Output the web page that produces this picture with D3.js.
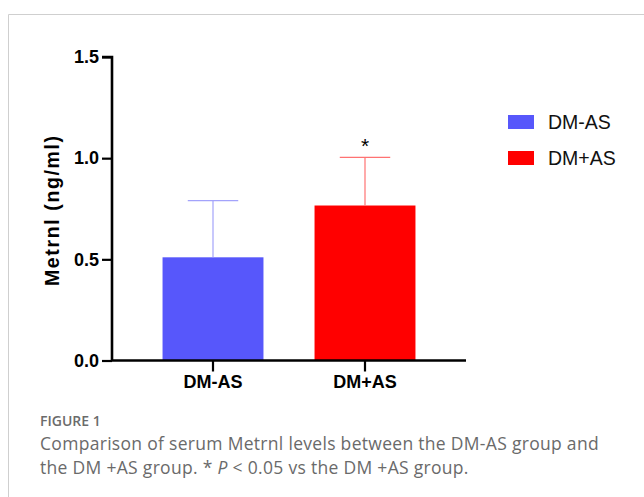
<!DOCTYPE html>
<html>
<head>
<meta charset="utf-8">
<script src="https://cdn.jsdelivr.net/npm/d3@7"></script>
<style>
  body { margin: 0; background: #fff; }
  svg { display: block; }
</style>
</head>
<body>
<svg id="chart" width="644" height="497"></svg>
<script>
const groups = ['DM-AS', 'DM+AS'];
const means = [0.51, 0.766];
const sds = [0.28, 0.238];
const barColors = ['#5757fb', '#ff0000'];
const errColors = ['#a3a3fb', '#ff7272'];
const sigMarks = ['', '*'];
const yTicks = [0, 0.5, 1.0, 1.5];
const captionLines = [
  'Comparison of serum Metrnl levels between the DM-AS group and',
  'the DM +AS group. * P < 0.05 vs the DM +AS group.'
];

const svg = d3.select('#chart');
const axisFont = '"Liberation Sans", Arial, sans-serif';

// frame of the figure panel
svg.append('path')
  .attr('d', 'M8.5,497 L8.5,14.5 L644,14.5')
  .attr('fill', 'none')
  .attr('stroke', '#cfcfcf')
  .attr('stroke-width', 1);

const y = d3.scaleLinear().domain([0, 1.5]).range([360.5, 57]);
const x = d3.scaleBand()
  .domain(groups)
  .range([112, 466])
  .paddingInner(0.336)
  .paddingOuter(0.3325);

// bars
svg.append('g')
  .selectAll('rect')
  .data(groups)
  .join('rect')
  .attr('x', (d) => x(d))
  .attr('width', x.bandwidth())
  .attr('y', (d, i) => y(means[i]))
  .attr('height', (d, i) => y(0) - y(means[i]))
  .attr('fill', (d, i) => barColors[i]);

// error bars (upper only)
const capHalf = x.bandwidth() / 4;
const err = svg.append('g')
  .selectAll('g')
  .data(groups)
  .join('g')
  .attr('stroke', (d, i) => errColors[i])
  .attr('stroke-width', 1.2);
err.append('line')
  .attr('x1', (d) => x(d) + x.bandwidth() / 2)
  .attr('x2', (d) => x(d) + x.bandwidth() / 2)
  .attr('y1', (d, i) => y(means[i]))
  .attr('y2', (d, i) => y(means[i] + sds[i]));
err.append('line')
  .attr('x1', (d) => x(d) + x.bandwidth() / 2 - capHalf)
  .attr('x2', (d) => x(d) + x.bandwidth() / 2 + capHalf)
  .attr('y1', (d, i) => y(means[i] + sds[i]))
  .attr('y2', (d, i) => y(means[i] + sds[i]));

// significance marks
svg.append('g')
  .selectAll('text')
  .data(groups)
  .join('text')
  .attr('x', (d) => x(d) + x.bandwidth() / 2)
  .attr('y', (d, i) => y(means[i] + sds[i]) - 4)
  .attr('text-anchor', 'middle')
  .attr('font-family', axisFont)
  .attr('font-size', 21)
  .text((d, i) => sigMarks[i]);

// y axis
const yAxis = svg.append('g')
  .attr('transform', 'translate(112,0)')
  .call(d3.axisLeft(y).tickValues(yTicks).tickFormat(d3.format('.1f')).tickSize(10).tickPadding(3));
yAxis.select('.domain').attr('stroke-width', 2.6).attr('d', `M-10,${y(1.5)}H0V${y(0)}`);
yAxis.selectAll('.tick line').attr('stroke-width', 2.2);
yAxis.selectAll('.tick text')
  .attr('font-family', axisFont)
  .attr('font-weight', 'bold')
  .attr('font-size', 18)
  .attr('fill', '#000');

// x axis
const xAxis = svg.append('g')
  .attr('transform', `translate(0,${y(0)})`)
  .call(d3.axisBottom(x).tickSize(11).tickPadding(4));
xAxis.select('.domain').attr('stroke-width', 2.6).attr('d', 'M112,0H466');
xAxis.selectAll('.tick line').attr('stroke-width', 2.2);
xAxis.selectAll('.tick text')
  .attr('font-family', axisFont)
  .attr('font-weight', 'bold')
  .attr('font-size', 18)
  .attr('fill', '#000');

// y label
svg.append('text')
  .attr('transform', 'translate(59,211) rotate(-90)')
  .attr('text-anchor', 'middle')
  .attr('font-family', axisFont)
  .attr('font-weight', 'bold')
  .attr('font-size', 19.5)
  .attr('textLength', 150)
  .attr('lengthAdjust', 'spacing')
  .text('Metrnl (ng/ml)');

// legend
const legend = svg.append('g')
  .selectAll('g')
  .data(groups)
  .join('g')
  .attr('transform', (d, i) => `translate(508,${115 + i * 36})`);
legend.append('rect')
  .attr('width', 26)
  .attr('height', 14)
  .attr('fill', (d, i) => barColors[i]);
legend.append('text')
  .attr('x', 40)
  .attr('y', 14)
  .attr('font-family', axisFont)
  .attr('font-size', 19.5)
  .attr('fill', '#111')
  .text((d) => d);

// caption
svg.append('text')
  .attr('x', 40)
  .attr('y', 426)
  .attr('font-family', '"Open Sans", sans-serif')
  .attr('font-weight', 600)
  .attr('font-size', 14)
  .attr('fill', '#6b6b6b')
  .text('FIGURE 1');

const cap = svg.append('text')
  .attr('font-family', '"Open Sans", sans-serif')
  .attr('font-size', 17.5)
  .attr('letter-spacing', 0.3)
  .attr('fill', '#6a6a6a');
cap.append('tspan').attr('x', 40).attr('y', 450).text(captionLines[0]);
const l2 = cap.append('tspan').attr('x', 40).attr('y', 474);
const parts = captionLines[1].split('P');
l2.append('tspan').text(parts[0]);
l2.append('tspan').attr('font-style', 'italic').text('P');
l2.append('tspan').text(parts[1]);
</script>
</body>
</html>
